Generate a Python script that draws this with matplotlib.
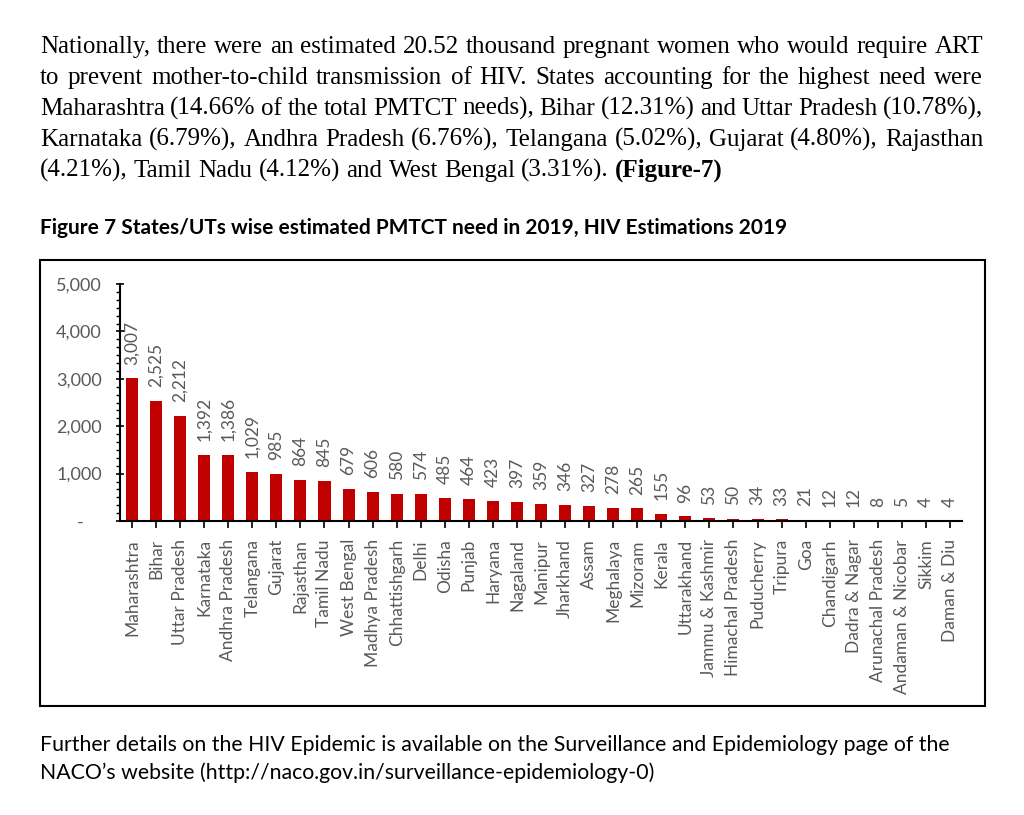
import matplotlib.pyplot as plt
from matplotlib.patches import Rectangle
from matplotlib.ticker import MultipleLocator, FuncFormatter

# data
states = ['Maharashtra', 'Bihar', 'Uttar Pradesh', 'Karnataka', 'Andhra Pradesh',
          'Telangana', 'Gujarat', 'Rajasthan', 'Tamil Nadu', 'West Bengal',
          'Madhya Pradesh', 'Chhattishgarh', 'Delhi', 'Odisha', 'Punjab', 'Haryana',
          'Nagaland', 'Manipur', 'Jharkhand', 'Assam', 'Meghalaya', 'Mizoram',
          'Kerala', 'Uttarakhand', 'Jammu & Kashmir', 'Himachal Pradesh',
          'Puducherry', 'Tripura', 'Goa', 'Chandigarh', 'Dadra & Nagar',
          'Arunachal Pradesh', 'Andaman & Nicobar', 'Sikkim', 'Daman & Diu']
pmtct_need = [3007, 2525, 2212, 1392, 1386, 1029, 985, 864, 845, 679, 606, 580,
              574, 485, 464, 423, 397, 359, 346, 327, 278, 265, 155, 96, 53, 50,
              34, 33, 21, 12, 12, 8, 5, 4, 4]

para_lines = [
    "Nationally, there were an estimated 20.52 thousand pregnant women who would require ART",
    "to prevent mother-to-child transmission of HIV. States accounting for the highest need were",
    "Maharashtra (14.66% of the total PMTCT needs), Bihar (12.31%) and Uttar Pradesh (10.78%),",
    "Karnataka (6.79%), Andhra Pradesh (6.76%), Telangana (5.02%), Gujarat (4.80%), Rajasthan",
    "(4.21%), Tamil Nadu (4.12%) and West Bengal (3.31%).",
]
fig_title = "Figure 7 States/UTs wise estimated PMTCT need in 2019, HIV Estimations 2019"
footer = ["Further details on the HIV Epidemic is available on the Surveillance and Epidemiology page of the",
          "NACO\u2019s website (http://naco.gov.in/surveillance-epidemiology-0)"]

W, H = 1024, 815
fig = plt.figure(figsize=(W / 100, H / 100), dpi=100)
renderer = fig.canvas.get_renderer()

def fx(px):
    return px / W

def fy(py):
    return 1 - py / H

# justified paragraph, words spread between the margins
def put_line(words, y, justify=True, x0=40, x1=983, **kw):
    texts = []
    for word, weight in words:
        texts.append(fig.text(0, fy(y), word, fontweight=weight, va='baseline',
                              ha='left', **kw))
    widths = [t.get_window_extent(renderer).width for t in texts]
    if justify and len(texts) > 1:
        gap = (x1 - x0 - sum(widths)) / (len(texts) - 1)
    else:
        a = fig.text(0, 0, 'a a', **kw)
        b = fig.text(0, 0, 'aa', **kw)
        gap = a.get_window_extent(renderer).width - b.get_window_extent(renderer).width
        a.remove()
        b.remove()
    x = x0
    for t, w in zip(texts, widths):
        t.set_x(fx(x))
        x += w + gap

serif = dict(family='Liberation Serif', fontsize=18, color='black')
baselines = [53, 84, 115, 146, 177]
for i, line in enumerate(para_lines):
    words = [(w, 'normal') for w in line.split(' ')]
    if i == len(para_lines) - 1:
        words.append(('(Figure-7)', 'bold'))
        put_line(words, baselines[i], justify=False, **serif)
    else:
        put_line(words, baselines[i], **serif)

fig.text(fx(40), fy(228), fig_title, family='Lato', fontweight='bold',
         fontsize=15, va='center', ha='left', color='black')

for i, line in enumerate(footer):
    fig.text(fx(40), fy(745 + i * 28), line, family='Lato', fontsize=15.3,
             va='center', ha='left', color='black')

# chart frame
fig.patches.append(Rectangle((fx(40), fy(706)), fx(985) - fx(40), fy(260) - fy(706),
                             transform=fig.transFigure, fill=False,
                             edgecolor='black', linewidth=1.5))

ax = fig.add_axes([fx(120), fy(521), fx(962) - fx(120), fy(284) - fy(521)])
x = range(len(states))
bars = ax.bar(x, pmtct_need, width=0.5, color='#C00000')

grey = '#595959'
for xi, v in zip(x, pmtct_need):
    ax.annotate(f'{v:,}', (xi, v), xytext=(0, 10), textcoords='offset points',
                rotation=90, ha='center', va='bottom', fontsize=12.5,
                family='Lato', color=grey)

ax.set_xlim(-0.5, len(states) - 0.5)
ax.set_ylim(0, 5000)
ax.yaxis.set_major_locator(MultipleLocator(1000))
ax.yaxis.set_minor_locator(MultipleLocator(1000 / 6))
ax.yaxis.set_major_formatter(FuncFormatter(lambda v, p: '-    ' if v == 0 else f'{int(v):,}'))
ax.set_xticks(list(x))
ax.set_xticklabels(states, rotation=90, family='Lato', fontsize=12.5, color=grey)
for lab in ax.get_yticklabels():
    lab.set_family('Lato')
ax.tick_params(axis='y', which='major', direction='inout', length=6, width=1.2,
               labelsize=13, labelcolor=grey, pad=10)
ax.tick_params(axis='y', which='minor', direction='out', length=3, width=1)
ax.tick_params(axis='x', direction='out', length=5, width=1.2, pad=8)
for s in ['top', 'right']:
    ax.spines[s].set_visible(False)
for s in ['left', 'bottom']:
    ax.spines[s].set_linewidth(1.5)

fig.savefig('out.png', dpi=100)
